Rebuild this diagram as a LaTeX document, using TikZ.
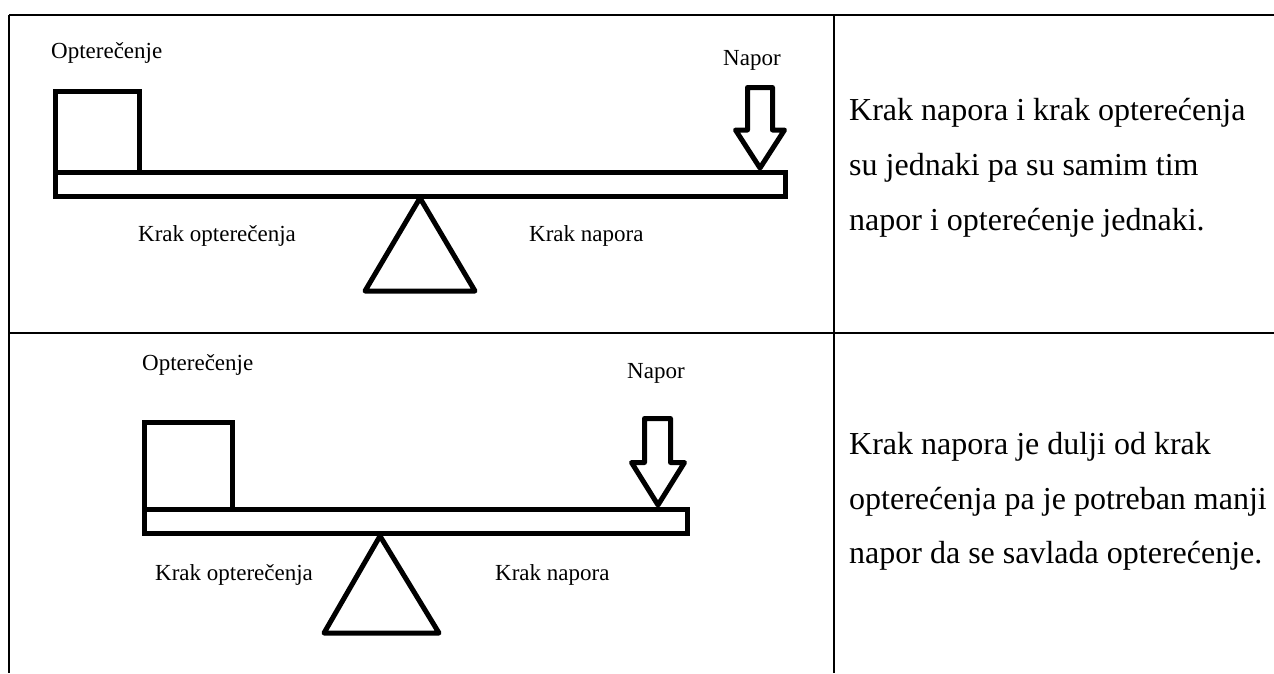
\documentclass[tikz,border=0pt]{standalone}
\usepackage{fontspec}
\setmainfont{Liberation Serif}
\begin{document}
\begin{tikzpicture}[x=1pt,y=-1pt]
            \tikzset{lbl/.style={inner sep=0pt,anchor=base west,font=\fontsize{23}{28}\selectfont},
                     txt/.style={inner sep=0pt,anchor=base west,font=\fontsize{32}{40}\selectfont},
                     part/.style={draw=black,line width=5pt},
                     grid/.style={draw=black,line width=1.5pt}};
            \useasboundingbox (0,0) rectangle (1274,673);
            
            \draw[grid] (9,15)--(1274,15);
            \draw[grid] (9,333)--(1274,333);
            \draw[grid] (9,15)--(9,673);
            \draw[grid] (834,15)--(834,673);
            
            \draw[part] (55.5,91) rectangle (139.5,172.5);
            \draw[part] (55.5,172.5) rectangle (785.5,196.5);
            \draw[part,line join=round] (420,198)--(475,291)--(365,291)--cycle;
            \draw[part,line join=round] (747.5,87.5)--(772.5,87.5)--(772.5,130)--(784.5,130)--(760,168)--(735.5,130)--(747.5,130)--cycle;
            
            \node[lbl] (o1) at (51,58) {Opterečenje};
            \node[lbl] (n1) at (723,65) {Napor};
            \node[lbl] (ko1) at (138,241) {Krak opterečenja};
            \node[lbl] (kn1) at (529,241) {Krak napora};
            
            \node[txt] (t11) at (849,120) {Krak napora i krak opterećenja};
            \node[txt] (t12) at (849,175) {su jednaki pa su samim tim};
            \node[txt] (t13) at (849,230) {napor i opterećenje jednaki.};
            
            \draw[part] (144.5,422.5) rectangle (232.5,509.5);
            \draw[part] (144.5,509.5) rectangle (687.5,533.5);
            \draw[part,line join=round] (380,536)--(439,633)--(324,633)--cycle;
            \draw[part,line join=round] (644.5,418.5)--(670.5,418.5)--(670.5,462.5)--(684.5,462.5)--(658,505)--(631.5,462.5)--(644.5,462.5)--cycle;
            
            \node[lbl] (o2) at (142,370) {Opterečenje};
            \node[lbl] (n2) at (627,378) {Napor};
            \node[lbl] (ko2) at (155,580) {Krak opterečenja};
            \node[lbl] (kn2) at (495,580) {Krak napora};
            
            \node[txt] (t21) at (849,454) {Krak napora je dulji od krak};
            \node[txt] (t22) at (849,509) {opterećenja pa je potreban manji};
            \node[txt] (t23) at (849,563) {napor da se savlada opterećenje.};
        \end{tikzpicture}
\end{document}
